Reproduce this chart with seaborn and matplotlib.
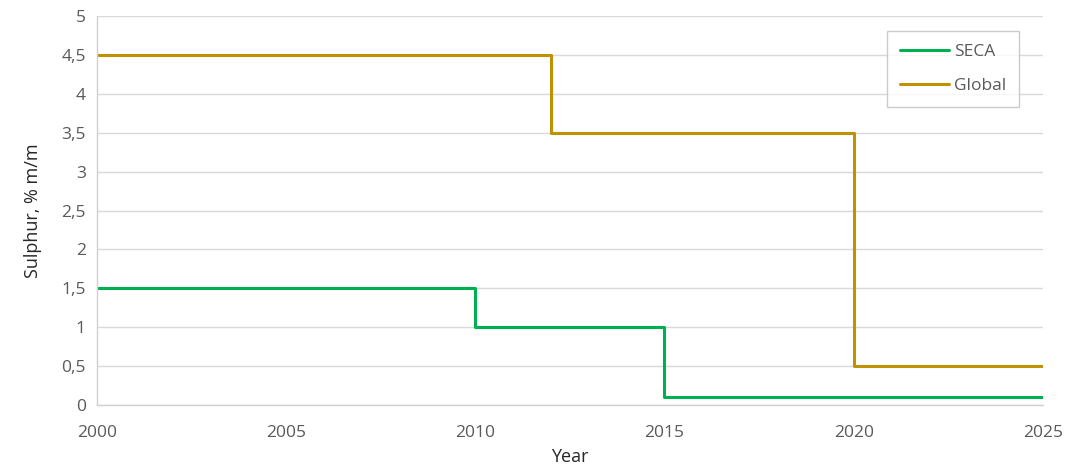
import matplotlib
matplotlib.use("Agg")
import matplotlib.pyplot as plt
import matplotlib.ticker as mticker
import seaborn as sns
import pandas as pd

# step limits for sulphur content in fuel
seca_years = [2000, 2010, 2015, 2025]
seca_values = [1.5, 1.0, 0.1, 0.1]
global_years = [2000, 2012, 2020, 2025]
global_values = [4.5, 3.5, 0.5, 0.5]

df = pd.concat([
    pd.DataFrame({"Year": seca_years, "Sulphur": seca_values, "Zone": "SECA"}),
    pd.DataFrame({"Year": global_years, "Sulphur": global_values, "Zone": "Global"}),
])

sns.set_style("white")
plt.rcParams["font.family"] = ["Open Sans", "DejaVu Sans"]

fig = plt.figure(figsize=(10.84, 4.70), dpi=100)
ax = fig.add_axes([0.0895, 0.138, 0.8725, 0.828])

palette = {"SECA": "#00b050", "Global": "#c09100"}
sns.lineplot(data=df, x="Year", y="Sulphur", hue="Zone", palette=palette,
             drawstyle="steps-post", linewidth=2.2, ax=ax)

ax.set_xlim(2000, 2025)
ax.set_ylim(0, 5)
ax.set_xticks([2000, 2005, 2010, 2015, 2020, 2025])
ax.set_yticks([i * 0.5 for i in range(11)])
ax.yaxis.set_major_formatter(mticker.FuncFormatter(
    lambda v, p: ("%g" % v).replace(".", ",")))
ax.grid(axis="y", color="#d9d9d9", linewidth=1)
ax.set_axisbelow(True)

for side in ["top", "right"]:
    ax.spines[side].set_visible(False)
for side in ["left", "bottom"]:
    ax.spines[side].set_color("#d0d0d0")
    ax.spines[side].set_linewidth(1)

ax.tick_params(axis="both", colors="#595959", labelsize=12.5, length=0)
ax.tick_params(axis="x", pad=14)
ax.tick_params(axis="y", pad=8)
ax.set_xlabel("Year", fontsize=13, color="#262626", labelpad=5)
ax.set_ylabel("Sulphur, % m/m", fontsize=13, color="#262626", labelpad=14)

leg = ax.legend(loc="upper right", bbox_to_anchor=(0.975, 0.961), borderaxespad=0,
                fontsize=12.5, frameon=True, fancybox=False, borderpad=0.75,
                labelspacing=1.0, handlelength=2.8, handletextpad=0.3)
leg.get_frame().set_edgecolor("#bfbfbf")
for t in leg.get_texts():
    t.set_color("#595959")

fig.savefig("out.png", dpi=100)
